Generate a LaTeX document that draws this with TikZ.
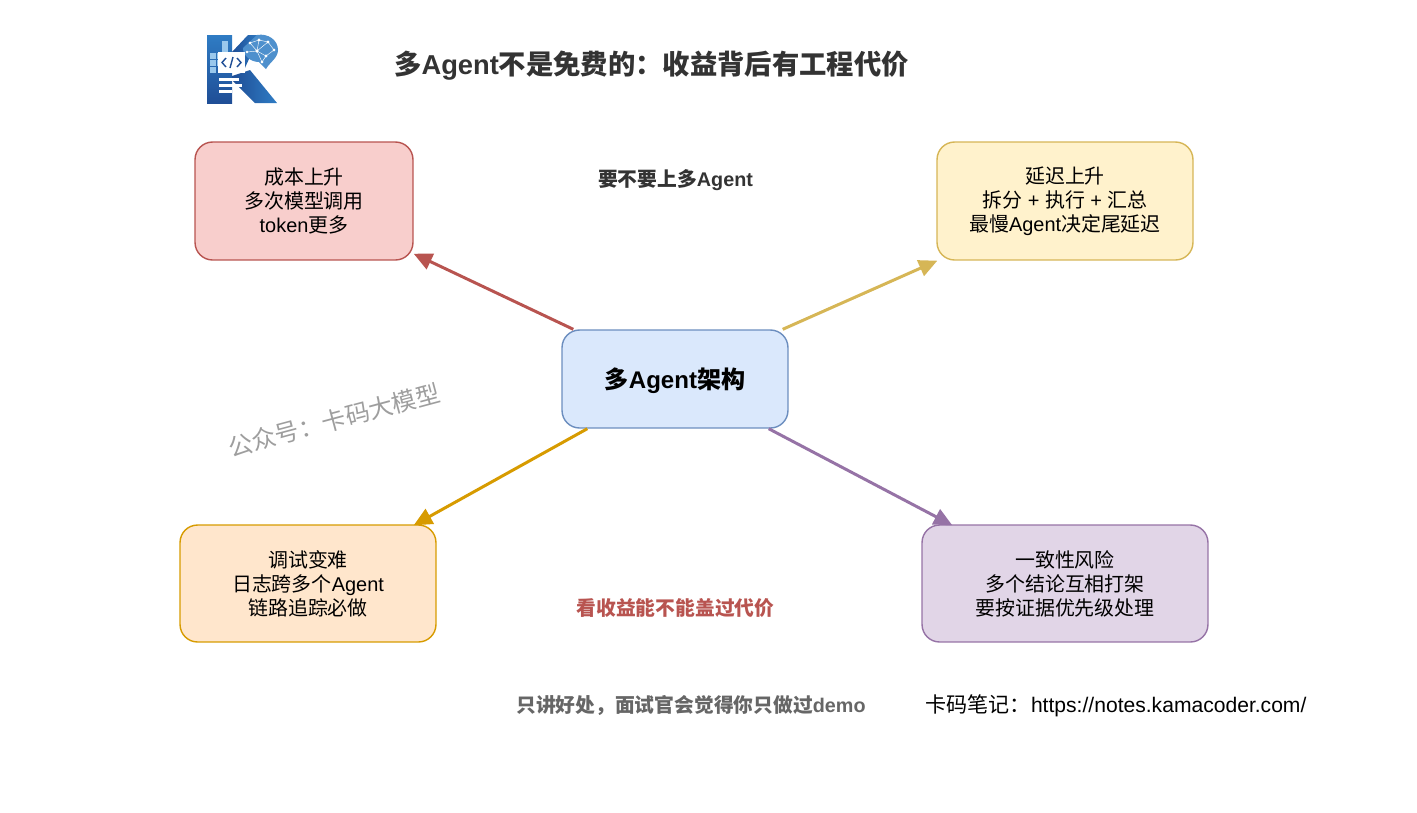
\documentclass[tikz,border=0pt]{standalone}
\usepackage{fontspec}
\setmainfont{Liberation Sans}
\newfontfamily\cjkfont{Noto Sans CJK SC}
\newcommand{\zh}[1]{{\cjkfont #1}}
\usetikzlibrary{calc,arrows.meta}
\definecolor{redfill}{HTML}{F8CECC}
\definecolor{redline}{HTML}{B85450}
\definecolor{yellowfill}{HTML}{FFF2CC}
\definecolor{yellowline}{HTML}{D6B656}
\definecolor{bluefill}{HTML}{DAE8FC}
\definecolor{blueline}{HTML}{6C8EBF}
\definecolor{orangefill}{HTML}{FFE6CC}
\definecolor{orangeline}{HTML}{D79B00}
\definecolor{purplefill}{HTML}{E1D5E7}
\definecolor{purpleline}{HTML}{9673A6}
\definecolor{logodark}{HTML}{1F4E96}
\definecolor{logomid}{HTML}{2F7CC4}
\definecolor{logolight}{HTML}{6FB1E4}
\tikzset{
    card/.style={draw,rounded corners=10pt,line width=0.8pt,align=center,
        font=\fontsize{11.35}{13.6}\selectfont,inner sep=0pt},
    link/.style={line width=1.7pt,-{Triangle[length=10.5pt,width=9.5pt]}},
    note/.style={align=center,inner sep=0pt,font=\bfseries\fontsize{11.25}{13.6}\selectfont}
}

\begin{document}
\begin{tikzpicture}[x=0.02cm,y=-0.02cm]
    \useasboundingbox (0,0) rectangle (1417,812);
    % logo
    \shade[top color=logomid,bottom color=logodark] (207,35) rectangle (232,103);
    \foreach \sx/\sy in {222/41,222/47,210/53,217/53,210/60,217/60,210/67}
        \fill[logolight!70!white] (\sx,\sy) rectangle ++(6,6);
    \shade[left color=logodark,right color=logomid] (232,52) -- (248,35) -- (260,35) -- (244,70) -- (232,70) -- cycle;
    \shade[left color=logodark,right color=logomid] (232,76) -- (250,70) -- (277,103) -- (255,103) -- (232,80) -- cycle;
    \fill[logomid!85!white] (257,35) .. controls (268,33) and (278,40) .. (278,50) .. controls (278,58) and (270,62) .. (266,69) -- (259,62) .. controls (250,62) and (243,55) .. (243,48) -- cycle;
    \foreach \ax/\ay/\bx/\by in {250/43/259/40,259/40/268/42,268/42/274/50,250/43/257/51,257/51/268/42,257/51/266/56,266/56/274/50,259/40/257/51,247/52/257/51,257/51/262/62,266/56/262/62}{
        \draw[white,line width=0.25pt] (\ax,\ay) -- (\bx,\by);
        \fill[white] (\ax,\ay) circle (1.3);
        \fill[white] (\bx,\by) circle (1.3);
    }
    \fill[white] (218,52) rectangle (245,73);
    \draw[logodark,line width=0.8pt] (226,58) -- (222,62.5) -- (226,67);
    \draw[logodark,line width=0.8pt] (237,58) -- (241,62.5) -- (237,67);
    \draw[logodark,line width=0.8pt] (233,57) -- (230,68);
    \fill[white] (219,78) rectangle (239,81);
    \fill[white] (219,84) rectangle (242,87);
    \fill[white] (219,90) rectangle (232,93);
    % titles
    \node[note,font=\bfseries\fontsize{15.55}{18}\selectfont,text=black!80] (title) at (651.5,65.5) {\zh{多}Agent\zh{不是免费的：收益背后有工程代价}};
    \node[note,text=black!80] (ask) at (675.5,180) {\zh{要不要上多}Agent};
    \node[note,text=redline] (gain) at (675.5,608) {\zh{看收益能不能盖过代价}};
    \node[note,text=black!60] (warn) at (691,705) {\zh{只讲好处，面试官会觉得你只做过}demo};
    \node[inner sep=0pt,font=\fontsize{12}{14}\selectfont] (site) at (1116,706) {\zh{卡码笔记：}https://notes.kamacoder.com/};
    \node[inner sep=0pt,rotate=15,text=black!38,font=\fontsize{13.8}{16}\selectfont] (mark) at (334,420) {\zh{公众号：卡码大模型}};
    % boxes
    \node[card,fill=bluefill,draw=blueline,minimum width=4.52cm,minimum height=1.96cm,font=\bfseries\fontsize{13.7}{16}\selectfont] (hub) at (675,379) {\raisebox{-1.1pt}[10pt][1pt]{\zh{多}Agent\zh{架构}}};
    \node[card,fill=redfill,draw=redline,minimum width=4.36cm,minimum height=2.36cm] (cost) at (304,201) {\zh{成本上升}\\\zh{多次模型调用}\\token\zh{更多}};
    \node[card,fill=yellowfill,draw=yellowline,minimum width=5.12cm,minimum height=2.36cm] (delay) at (1065,201) {\zh{延迟上升}\\\zh{拆分} + \zh{执行} + \zh{汇总}\\\zh{最慢}Agent\zh{决定尾延迟}};
    \node[card,fill=orangefill,draw=orangeline,minimum width=5.12cm,minimum height=2.34cm] (debug) at (308,583.5) {\zh{调试变难}\\\zh{日志跨多个}Agent\\\zh{链路追踪必做}};
    \node[card,fill=purplefill,draw=purpleline,minimum width=5.72cm,minimum height=2.34cm] (clash) at (1065,583.5) {\zh{一致性风险}\\\zh{多个结论互相打架}\\\zh{要按证据优先级处理}};
    % links
    \draw[link,redline] ($(hub.north west)+(12,0)$) -- ($(cost.south east)+(0,-7)$);
    \draw[link,yellowline] ($(hub.north east)+(-6,0)$) -- ($(delay.south west)+(1,0)$);
    \draw[link,orangeline] ($(hub.south west)+(26,0)$) -- ($(debug.north east)+(-23,1)$);
    \draw[link,purpleline] ($(hub.south east)+(-20,0)$) -- ($(clash.north west)+(31,1)$);
\end{tikzpicture}
\end{document}
